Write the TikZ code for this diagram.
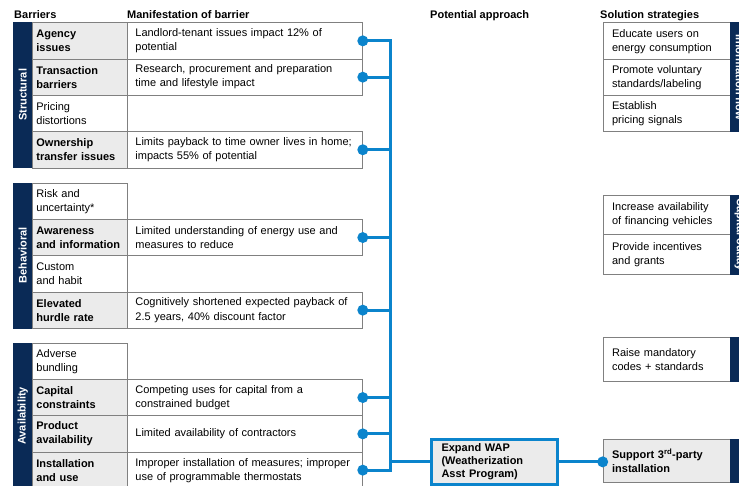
\documentclass[tikz,border=0pt]{standalone}
\usepackage{fontspec}
\setmainfont{Liberation Sans}
\definecolor{navy}{RGB}{10,42,86}
\definecolor{wapblue}{RGB}{11,132,204}
\definecolor{cellgray}{RGB}{235,235,235}
\definecolor{cellline}{RGB}{128,128,128}
\tikzset{
  cell/.style={draw=cellline, line width=0.8pt, fill=white, anchor=north west,
    align=left, font=\fontsize{11}{14}\selectfont, minimum height=36.3pt, inner ysep=0pt},
  barrier/.style={cell, text width=87pt, inner xsep=4pt},
  keybarrier/.style={barrier, fill=cellgray, font=\fontsize{11}{14}\selectfont\bfseries},
  manif/.style={cell, text width=219pt, inner xsep=8pt},
  strategy/.style={cell, text width=109pt, inner xsep=9pt},
  keystrategy/.style={strategy, fill=cellgray, font=\fontsize{11}{14}\selectfont\bfseries},
  band/.style={draw=navy, fill=navy, anchor=north west, minimum width=19pt, inner sep=0pt},
  bandlabel/.style={text=white, font=\fontsize{11}{13}\selectfont\bfseries},
  header/.style={anchor=base west, inner sep=0pt, font=\fontsize{11}{13}\selectfont\bfseries},
  link/.style={draw=wapblue, line width=3pt},
  dot/.style={circle, fill=wapblue, inner sep=0pt, minimum size=11pt},
}
\begin{document}
\begin{tikzpicture}[x=1pt,y=-1pt]
  \useasboundingbox (0,0) rectangle (739,485);
  \clip (0,0) rectangle (739,485);
  % column headers
  \node[header] (hbarrier) at (14,18.5) {Barriers};
  \node[header] (hmanif) at (127,18.5) {Manifestation of barrier};
  \node[header] (happroach) at (430,18.5) {Potential approach};
  \node[header] (hstrategy) at (600,18.5) {Solution strategies};
  % structural barriers
  \node[band, minimum height=144.7pt] (structural) at (13,22.3) {};
  \node[bandlabel, rotate=90] at (structural.center) {Structural};
  \node[keybarrier] (agency) at (32,22.3) {Agency\\issues};
  \node[manif] (agencym) at (127,22.3) {Landlord-tenant issues impact 12\% of\\potential};
  \node[keybarrier] (transaction) at (32,58.6) {Transaction\\barriers};
  \node[manif] (transactionm) at (127,58.6) {Research, procurement and preparation\\time and lifestyle impact};
  \node[barrier] (pricing) at (32,94.9) {Pricing\\distortions};
  \node[keybarrier] (ownership) at (32,131.2) {Ownership\\transfer issues};
  \node[manif] (ownershipm) at (127,131.2) {Limits payback to time owner lives in home;\\impacts 55\% of potential};
  % behavioral barriers
  \node[band, minimum height=145.2pt] (behavioral) at (13,182.7) {};
  \node[bandlabel, rotate=90] at (behavioral.center) {Behavioral};
  \node[barrier] (risk) at (32,182.7) {Risk and\\uncertainty*};
  \node[keybarrier] (awareness) at (32,219) {Awareness\\and information};
  \node[manif] (awarenessm) at (127,219) {Limited understanding of energy use and\\measures to reduce};
  \node[barrier] (custom) at (32,255.3) {Custom\\and habit};
  \node[keybarrier] (hurdle) at (32,291.6) {Elevated\\hurdle rate};
  \node[manif] (hurdlem) at (127,291.6) {Cognitively shortened expected payback of\\2.5 years, 40\% discount factor};
  % availability barriers
  \node[band, minimum height=146pt] (availability) at (13,342.7) {};
  \node[bandlabel, rotate=90] at (availability.center) {Availability};
  \node[barrier] (bundling) at (32,342.7) {Adverse\\bundling};
  \node[keybarrier] (capital) at (32,379) {Capital\\constraints};
  \node[manif] (capitalm) at (127,379) {Competing uses for capital from a\\constrained budget};
  \node[keybarrier] (product) at (32,415.3) {Product\\availability};
  \node[manif] (productm) at (127,415.3) {Limited availability of contractors};
  \node[keybarrier] (install) at (32,451.6) {Installation\\and use};
  \node[manif] (installm) at (127,451.6) {Improper installation of measures; improper\\use of programmable thermostats};
  % potential approach
  \node[draw=wapblue, line width=3pt, fill=cellgray, anchor=north west, align=left,
    text width=105pt, inner xsep=10.5pt, inner ysep=0pt, minimum height=44.3pt,
    font=\fontsize{11}{13.3}\selectfont\bfseries] (wap) at (429.5,438.2)
    {Expand WAP\\(Weatherization\\Asst Program)};
  % solution strategies
  \node[strategy, minimum height=37pt] (educate) at (602.7,22.3) {Educate users on\\energy consumption};
  \node[strategy, minimum height=36pt] (promote) at (602.7,59.3) {Promote voluntary\\standards/labeling};
  \node[strategy, minimum height=36pt] (establish) at (602.7,95.3) {Establish\\pricing signals};
  \node[band, minimum height=109pt] (information) at (730,22.3) {};
  \node[bandlabel, rotate=-90] at (information.center) {Information flow};
  \node[strategy, minimum height=39.3pt] (financing) at (602.7,195) {Increase availability\\of financing vehicles};
  \node[strategy, minimum height=40pt] (incentives) at (602.7,234.3) {Provide incentives\\and grants};
  \node[band, minimum height=79.3pt] (outlay) at (730,195) {};
  \node[bandlabel, rotate=-90] at (outlay.center) {Capital outlay};
  \node[strategy, minimum height=43.7pt] (codes) at (602.7,337.3) {Raise mandatory\\codes + standards};
  \node[band, minimum height=43.7pt] (codesband) at (730,337.3) {};
  \node[keystrategy, minimum height=43.3pt] (support) at (602.7,438.7) {Support 3\textsuperscript{rd}-party\\installation};
  \node[band, minimum height=43.3pt] (supportband) at (730,438.7) {};
  % connectors
  \coordinate (bus) at (390,0);
  \coordinate (supportin) at (wap.east -| support.west);
  \begin{scope}[link]
    \draw (agencym.east) -| (bus |- installm.east) -- (installm.east);
    \draw (transactionm.east) -- (transactionm.east -| bus);
    \draw (ownershipm.east) -- (ownershipm.east -| bus);
    \draw (awarenessm.east) -- (awarenessm.east -| bus);
    \draw (hurdlem.east) -- (hurdlem.east -| bus);
    \draw (capitalm.east) -- (capitalm.east -| bus);
    \draw (productm.east) -- (productm.east -| bus);
    \draw (wap.west -| bus) -- (wap.west);
    \draw (wap.east) -- (supportin);
  \end{scope}
  \foreach \n in {agencym,transactionm,ownershipm,awarenessm,hurdlem,capitalm,productm,installm}
    \node[dot] at (\n.east) {};
  \node[dot] at (supportin) {};
\end{tikzpicture}
\end{document}
